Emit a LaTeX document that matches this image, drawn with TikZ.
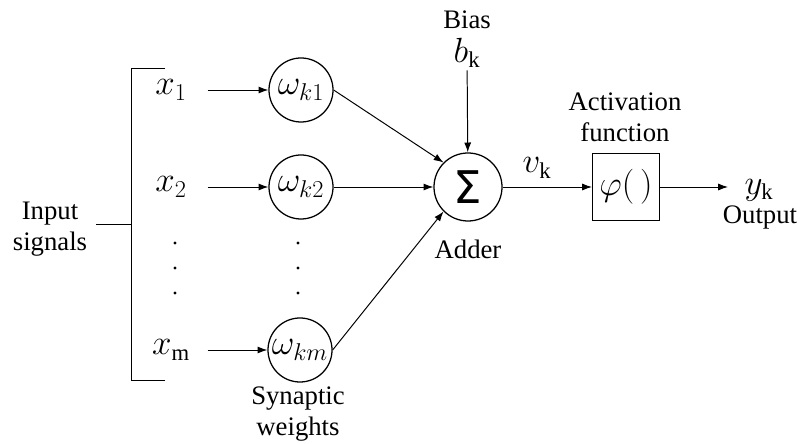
\documentclass[tikz,border=0pt]{standalone}
\usepackage{fontspec}
\setmainfont{Liberation Serif}
\newfontfamily\sumfont{DejaVu Sans}
\usetikzlibrary{arrows.meta}
\tikzset{
  every path/.style={
    black,
    line width=0.7pt
  },
  every node/.style={
    inner sep=1.5pt,
    font=\fontsize{19}{22}\selectfont
  },
  mathlbl/.style={font=\fontsize{23}{25}\selectfont},
  inlbl/.style={mathlbl,minimum width=1.8cm},
  weight/.style={draw,circle,minimum size=1.6cm,inner sep=0pt,line width=0.9pt,mathlbl},
  sig/.style={-{Latex[length=7pt,width=5pt]}}
}

\begin{document}
\begin{tikzpicture}[x=0.025cm,y=-0.025cm]
    \useasboundingbox (0,0) rectangle (801,444);

    % inputs
    \node[align=center] (in) at (50,229) {Input\\signals};
    \node[inlbl] (x1) at (171,90) {$x_1$};
    \node[inlbl] (x2) at (171,187) {$x_2$};
    \node[inlbl] (xm) at (171,350) {$x_{\mathrm{m}}$};

    % bracket
    \coordinate (bt) at (165,68);
    \coordinate (jt) at (131,68);
    \coordinate (jb) at (131,380);
    \coordinate (bb) at (165,380);
    \coordinate (jm) at (131,224);
    \coordinate (is) at (96,224);
    \draw (bt) -- (jt) -- (jb) -- (bb);
    \draw (is) -- (jm);

    % weights
    \node[weight] (w1) at (301,90) {$\omega_{k1}$};
    \node[weight] (w2) at (301,187) {$\omega_{k2}$};
    \node[weight] (wm) at (300,350) {$\omega_{km}$};
    \node[align=center] (syn) at (298,414) {Synaptic\\weights};

    % dots
    \foreach \y in {243,268,293} {
        \fill (175,\y) circle (1.2pt);
        \fill (298,\y) circle (1.2pt);
    }

    % adder
    \node[draw,circle,minimum size=1.7cm,inner sep=0pt,line width=0.9pt] (sum) at (468,187)
        {\sumfont\fontsize{32}{32}\selectfont Σ};
    \node (add) at (468,249) {Adder};
    \node (bias) at (467,20) {Bias};
    \node[mathlbl] (bk) at (467,53) {$b_{\mathrm{k}}$};

    % activation
    \node[draw,mathlbl,minimum width=1.675cm,minimum height=1.65cm] (phi) at (626,187) {$\varphi(\,)$};
    \node[align=center] (act) at (625,117) {Activation\\function};
    \node[mathlbl] (vk) at (537,168) {$v_{\mathrm{k}}$};
    \coordinate (oe) at (728,187);
    \node[mathlbl] (yk) at (759,190) {$y_{\mathrm{k}}$};
    \node (out) at (760,218) {Output};

    % arrows
    \draw[sig] (x1) -- (w1);
    \draw[sig] (x2) -- (w2);
    \draw[sig] (xm) -- (wm);
    \draw[sig] (w1.east) -- (sum.north west);
    \draw[sig] (w2) -- (sum);
    \draw[sig] (wm.east) -- (sum.south west);
    \draw[sig] (bk) -- (sum);
    \draw[sig] (sum) -- (phi);
    \draw[sig] (phi) -- (oe);
\end{tikzpicture}
\end{document}
